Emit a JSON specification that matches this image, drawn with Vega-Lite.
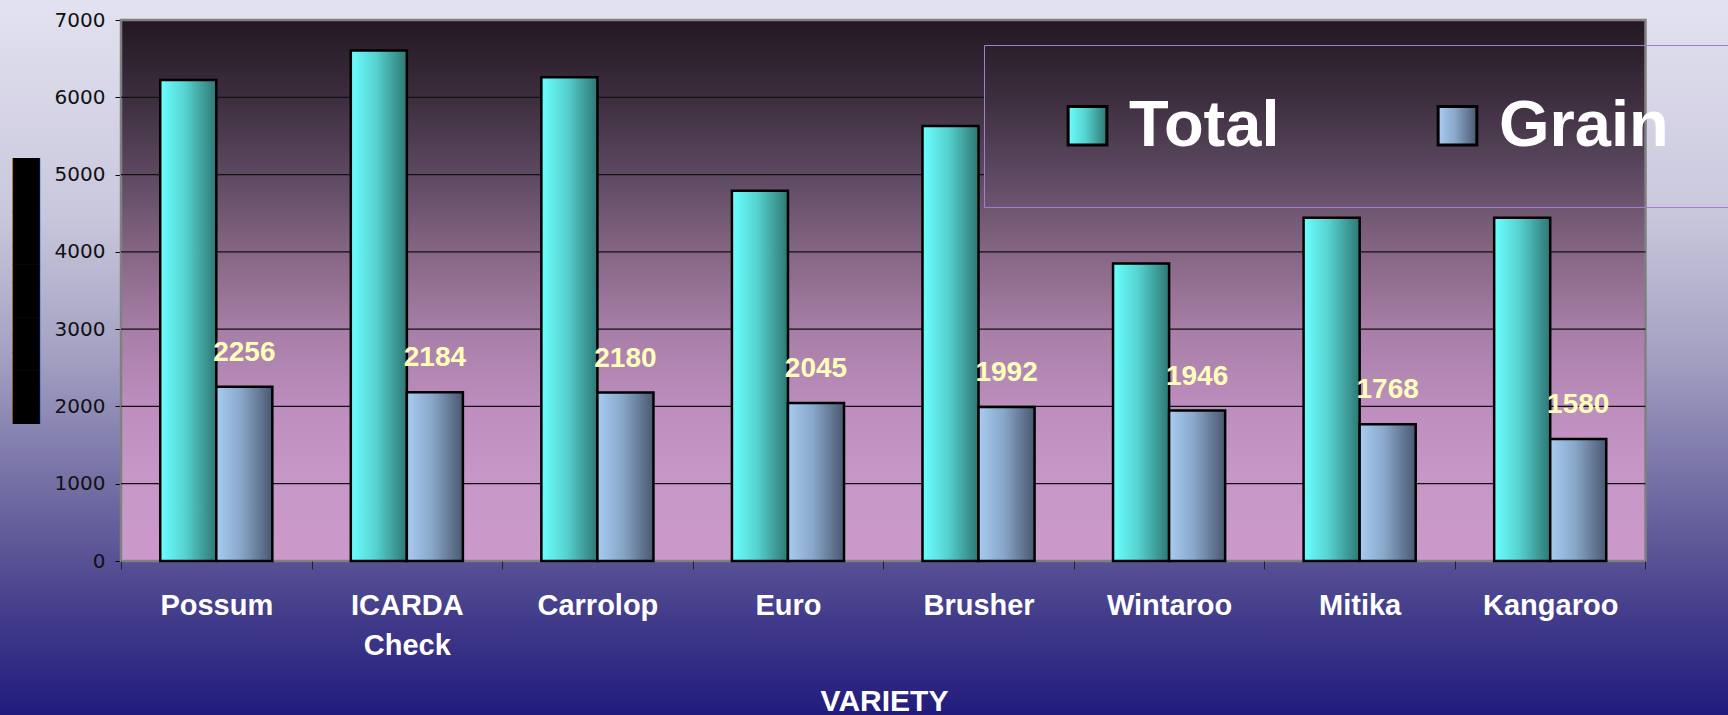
{
  "$schema": "https://vega.github.io/schema/vega-lite/v6.json",
  "width": 1728,
  "height": 715,
  "autosize": {"type": "none"},
  "padding": 0,
  "background": "#A3A0C2",
  "config": {
    "view": {
      "stroke": null,
      "fill": {"gradient": "linear", "x1": 0, "y1": 0, "x2": 0, "y2": 1, "stops": [
        {"offset": 0, "color": "#E3E2F0"},
        {"offset": 0.3, "color": "#C9C7DC"},
        {"offset": 0.5, "color": "#A3A0C2"},
        {"offset": 0.7, "color": "#6E69A0"},
        {"offset": 0.85, "color": "#463F8C"},
        {"offset": 1, "color": "#211B7D"}
      ]}
    }
  },
  "datasets": {
    "bars": [
      {"variety": "Possum", "series": "Total", "value": 6225},
      {"variety": "Possum", "series": "Grain", "value": 2256},
      {"variety": "ICARDA Check", "series": "Total", "value": 6605},
      {"variety": "ICARDA Check", "series": "Grain", "value": 2184},
      {"variety": "Carrolop", "series": "Total", "value": 6260},
      {"variety": "Carrolop", "series": "Grain", "value": 2180},
      {"variety": "Euro", "series": "Total", "value": 4790},
      {"variety": "Euro", "series": "Grain", "value": 2045},
      {"variety": "Brusher", "series": "Total", "value": 5630},
      {"variety": "Brusher", "series": "Grain", "value": 1992},
      {"variety": "Wintaroo", "series": "Total", "value": 3850},
      {"variety": "Wintaroo", "series": "Grain", "value": 1946},
      {"variety": "Mitika", "series": "Total", "value": 4440},
      {"variety": "Mitika", "series": "Grain", "value": 1768},
      {"variety": "Kangaroo", "series": "Total", "value": 4440},
      {"variety": "Kangaroo", "series": "Grain", "value": 1580}
    ],
    "gridFull": [{"v": 1000}, {"v": 2000}, {"v": 3000}, {"v": 4000}],
    "gridShort": [{"v": 5000}, {"v": 6000}],
    "frame": [{"lo": 0, "hi": 7000}]
  },
  "data": {"name": "bars"},
  "layer": [
    {
      "data": {"name": "frame"},
      "mark": {"type": "rect", "stroke": "#808080", "strokeWidth": 2.5,
        "fill": {"gradient": "linear", "x1": 0, "y1": 0, "x2": 0, "y2": 1, "stops": [
          {"offset": 0, "color": "#231822"},
          {"offset": 0.15, "color": "#3E2F40"},
          {"offset": 0.29, "color": "#5E4A62"},
          {"offset": 0.43, "color": "#866684"},
          {"offset": 0.57, "color": "#A67EA6"},
          {"offset": 0.71, "color": "#BC8DBD"},
          {"offset": 0.85, "color": "#C797C8"},
          {"offset": 1, "color": "#CB9ACB"}
        ]}},
      "encoding": {
        "x": {"datum": "Possum", "type": "nominal", "bandPosition": 0,
          "scale": {"domain": ["Possum", "ICARDA Check", "Carrolop", "Euro", "Brusher", "Wintaroo", "Mitika", "Kangaroo"], "paddingInner": 0, "paddingOuter": 0.534, "align": 0.5946}},
        "x2": {"datum": "Kangaroo", "bandPosition": 1},
        "y": {"field": "lo", "type": "quantitative", "scale": {"domain": [-1992.6, 7258.8], "nice": false, "zero": false}},
        "y2": {"field": "hi"}
      }
    },
    {
      "data": {"name": "gridFull"},
      "mark": {"type": "rule", "color": "#111111", "strokeWidth": 1.3},
      "encoding": {
        "x": {"datum": "Possum", "type": "nominal", "bandPosition": 0},
        "x2": {"datum": "Kangaroo", "bandPosition": 1},
        "y": {"field": "v", "type": "quantitative"}
      }
    },
    {
      "data": {"name": "gridShort"},
      "mark": {"type": "rule", "color": "#111111", "strokeWidth": 1.3},
      "encoding": {
        "x": {"datum": "Possum", "type": "nominal", "bandPosition": 0},
        "x2": {"datum": "Brusher", "bandPosition": 0.534},
        "y": {"field": "v", "type": "quantitative"}
      }
    },
    {
      "transform": [{"filter": "datum.series == 'Total'"}],
      "mark": {"type": "bar", "stroke": "black", "strokeWidth": 2.5,
        "fill": {"gradient": "linear", "x1": 0, "y1": 0, "x2": 1, "y2": 0, "stops": [
          {"offset": 0, "color": "#6BFFFF"}, {"offset": 0.45, "color": "#55D2D0"}, {"offset": 1, "color": "#2E7773"}]}},
      "encoding": {
        "x": {"field": "variety", "type": "nominal",
          "axis": {
            "title": "VARIETY", "orient": "bottom", "offset": -154, "domain": false, "grid": false,
            "ticks": true, "tickBand": "extent", "tickSize": 8, "tickColor": "#222222", "tickWidth": 1,
            "labelFont": "Liberation Sans", "labelFontWeight": "bold", "labelFontSize": 29, "labelColor": "white",
            "labelPadding": 22, "labelBaseline": "top", "labelAlign": "center", "labelLineHeight": 40, "labelAngle": 0, "labelLimit": 400,
            "labelExpr": "datum.label == 'ICARDA Check' ? ['ICARDA', 'Check'] : datum.label",
            "titleFont": "Liberation Sans", "titleFontWeight": "bold", "titleFontSize": 30, "titleColor": "white",
            "titleX": 884, "titleY": 149, "titleBaseline": "alphabetic", "titleAlign": "center", "titleAnchor": null
          }},
        "xOffset": {"field": "series", "type": "nominal", "scale": {"domain": ["Total", "Grain"], "paddingInner": 0, "paddingOuter": 0.7}},
        "y": {"field": "value", "type": "quantitative",
          "axis": {
            "orient": "left", "offset": -121, "values": [0, 1000, 2000, 3000, 4000, 5000, 6000, 7000], "format": "d",
            "domain": false, "grid": false, "tickSize": 6, "tickColor": "black", "tickWidth": 1,
            "labelFont": "DejaVu Sans", "labelFontSize": 20, "labelColor": "#111111", "labelPadding": 10,
            "title": "███████████████", "titleFont": "DejaVu Sans", "titleFontSize": 23, "titleColor": "black",
            "titleAngle": -90, "titleX": -94.5, "titleY": 290.5, "titleAlign": "center", "titleBaseline": "middle", "titleLimit": 2000
          }},
        "y2": {"datum": 0}
      }
    },
    {
      "transform": [{"filter": "datum.series == 'Grain'"}],
      "mark": {"type": "bar", "stroke": "black", "strokeWidth": 2.5,
        "fill": {"gradient": "linear", "x1": 0, "y1": 0, "x2": 1, "y2": 0, "stops": [
          {"offset": 0, "color": "#A8CCF2"}, {"offset": 0.45, "color": "#88A6C8"}, {"offset": 1, "color": "#4A5870"}]}},
      "encoding": {
        "x": {"field": "variety", "type": "nominal"},
        "xOffset": {"field": "series", "type": "nominal"},
        "y": {"field": "value", "type": "quantitative"},
        "y2": {"datum": 0}
      }
    },
    {
      "mark": {"type": "point", "size": 0, "filled": true, "opacity": 1, "strokeWidth": 3,
        "fill": {"expr": "(datum.series || datum.value) === 'Total' ? {gradient: 'linear', x1: 0, y1: 0, x2: 1, y2: 0, stops: [{offset: 0, color: '#6BFFFF'}, {offset: 0.45, color: '#55D2D0'}, {offset: 1, color: '#2E7773'}]} : {gradient: 'linear', x1: 0, y1: 0, x2: 1, y2: 0, stops: [{offset: 0, color: '#A8CCF2'}, {offset: 0.45, color: '#88A6C8'}, {offset: 1, color: '#4A5870'}]}"}},
      "encoding": {
        "x": {"field": "variety", "type": "nominal"},
        "xOffset": {"field": "series", "type": "nominal"},
        "y": {"field": "value", "type": "quantitative"},
        "stroke": {"field": "series", "type": "nominal",
          "scale": {"domain": ["Total", "Grain"], "range": ["black", "black"]},
          "legend": {
            "title": " ", "titleOrient": "right", "titleFontSize": 1, "titlePadding": 40,
            "orient": "none", "legendX": 984, "legendY": 45, "direction": "horizontal",
            "symbolSize": 1500, "symbolStrokeWidth": 3, "symbolStrokeColor": "black", "symbolOpacity": 1,
            "symbolOffset": 23, "labelOffset": 9,
            "labelFont": "Liberation Sans", "labelFontWeight": "bold", "labelFontSize": 65, "labelColor": "white",
            "labelLimit": 400, "labelBaseline": "middle", "columnPadding": 122, "padding": 48,
            "strokeColor": "#A07FD0"
          }},
        "shape": {"field": "series", "type": "nominal",
          "scale": {"domain": ["Total", "Grain"], "range": ["square", "square"]},
          "legend": {
            "title": " ", "titleOrient": "right", "titleFontSize": 1, "titlePadding": 40,
            "orient": "none", "legendX": 984, "legendY": 45, "direction": "horizontal",
            "symbolSize": 1500, "symbolStrokeWidth": 3, "symbolStrokeColor": "black", "symbolOpacity": 1,
            "symbolOffset": 23, "labelOffset": 9,
            "labelFont": "Liberation Sans", "labelFontWeight": "bold", "labelFontSize": 65, "labelColor": "white",
            "labelLimit": 400, "labelBaseline": "middle", "columnPadding": 122, "padding": 48,
            "strokeColor": "#A07FD0"
          }}
      }
    },
    {
      "transform": [{"filter": "datum.series == 'Grain'"}],
      "mark": {"type": "text", "font": "Liberation Sans", "fontWeight": "bold", "fontSize": 28, "color": "#FFFFBB", "baseline": "alphabetic", "align": "center", "dy": -26},
      "encoding": {
        "x": {"field": "variety", "type": "nominal"},
        "xOffset": {"field": "series", "type": "nominal"},
        "y": {"field": "value", "type": "quantitative"},
        "text": {"field": "value", "type": "quantitative"}
      }
    }
  ]
}
